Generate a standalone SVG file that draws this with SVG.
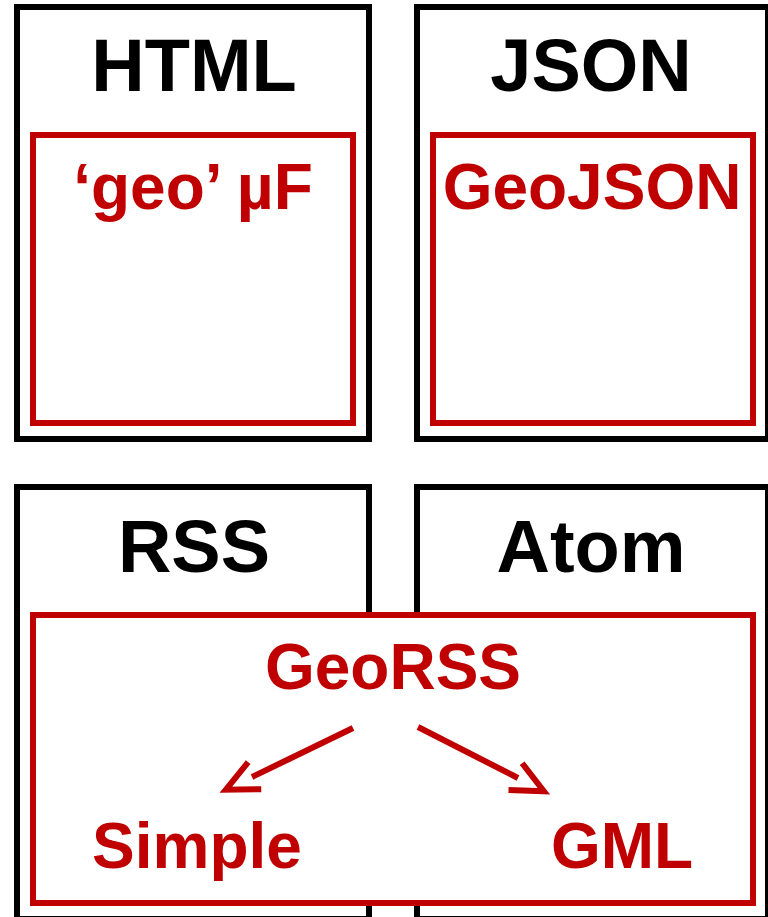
<svg xmlns="http://www.w3.org/2000/svg" width="768" height="917" viewBox="0 0 768 917">
  <style>
    .outer { fill: #ffffff; stroke: #000000; stroke-width: 6; }
    .inner { fill: #ffffff; stroke: #C00000; stroke-width: 6; }
    .title { font-family: "Liberation Sans", Arial, sans-serif; font-weight: bold; font-size: 74px; fill: #000000; text-anchor: middle; }
    .label { font-family: "Liberation Sans", Arial, sans-serif; font-weight: bold; font-size: 64px; fill: #C00000; text-anchor: middle; }
    .arrow { fill: none; stroke: #C00000; stroke-width: 6; }
  </style>
  <defs>
    <marker id="openArrow" markerUnits="userSpaceOnUse" markerWidth="50" markerHeight="50" viewBox="-10 -25 50 50" refX="0" refY="0" orient="auto" overflow="visible">
      <path d="M -3,-15 L 29,0 L -3,15" fill="none" stroke="#C00000" stroke-width="6"/>
    </marker>
  </defs>
  <rect width="768" height="917" fill="#ffffff"/>

  <g id="html">
    <rect class="outer" x="17" y="7" width="352" height="432"/>
    <text class="title" x="194" y="91">HTML</text>
  </g>
  <g id="geo-mf">
    <rect class="inner" x="33" y="135" width="320" height="288"/>
    <text class="label" x="193" y="209">‘geo’ µF</text>
  </g>

  <g id="json">
    <rect class="outer" x="417" y="7" width="351" height="432"/>
    <text class="title" x="591" y="91">JSON</text>
  </g>
  <g id="geojson">
    <rect class="inner" x="433" y="135" width="320" height="288"/>
    <text class="label" x="592" y="209">GeoJSON</text>
  </g>

  <g id="rss">
    <rect class="outer" x="17" y="487" width="352" height="432"/>
    <text class="title" x="194" y="572">RSS</text>
  </g>
  <g id="atom">
    <rect class="outer" x="417" y="487" width="351" height="432"/>
    <text class="title" x="591" y="572">Atom</text>
  </g>
  <g id="georss">
    <rect class="inner" x="33" y="615" width="720" height="288"/>
    <text class="label" x="393" y="689">GeoRSS</text>
  </g>
  <g id="simple">
    <text class="label" x="197" y="868">Simple</text>
  </g>
  <g id="gml">
    <text class="label" x="622" y="868">GML</text>
  </g>

  <g id="connectors">
    <line class="arrow" x1="353" y1="728" x2="252" y2="777" marker-end="url(#openArrow)"/>
    <line class="arrow" x1="418" y1="727" x2="518" y2="778" marker-end="url(#openArrow)"/>
  </g>
</svg>
